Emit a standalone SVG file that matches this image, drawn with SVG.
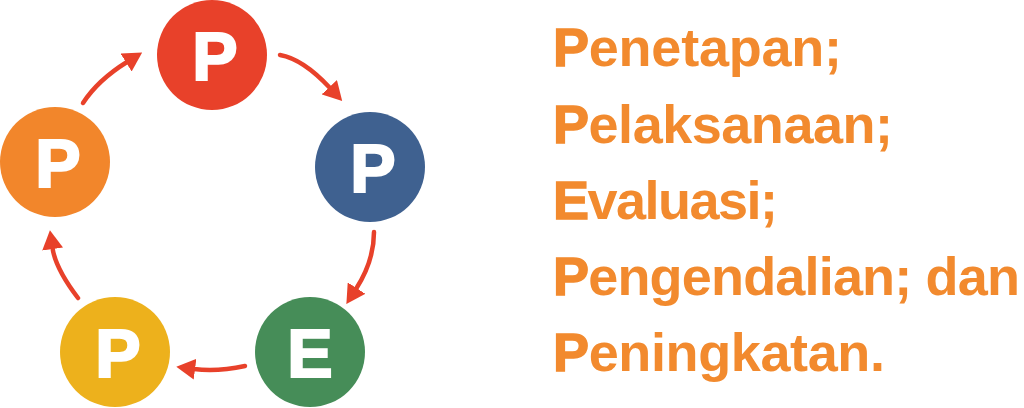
<svg xmlns="http://www.w3.org/2000/svg" width="1024" height="408" viewBox="0 0 1024 408">
<style>
.node text{font-family:"Liberation Sans",Arial,sans-serif;font-weight:700;font-size:68px;fill:#fff;stroke:#fff;stroke-width:2.2;stroke-linejoin:miter;text-anchor:middle}
.conn path{fill:none;stroke:#E8412A;stroke-width:4.5;stroke-linecap:round}
.label{font-family:"Liberation Sans",Arial,sans-serif;font-weight:700;font-size:54px;fill:#F28A2E}
.label .k{stroke:#F28A2E;stroke-width:1.4}
</style>
<defs>
<marker id="ah" markerUnits="userSpaceOnUse" viewBox="0 0 18 20" refX="1" refY="10" markerWidth="19" markerHeight="21" orient="auto">
<path d="M0,0 L18,10 L0,20 z" fill="#E8412A"/>
</marker>
</defs>
<rect width="1024" height="408" fill="#fff"/>
<g id="node-top" class="node"><circle cx="212" cy="55" r="55" fill="#E8412A"/><text x="215" y="80">P</text></g>
<g id="node-right" class="node"><circle cx="370" cy="167" r="55" fill="#3F6190"/><text x="373" y="192">P</text></g>
<g id="node-bottom-right" class="node"><circle cx="310" cy="352" r="55" fill="#468D58"/><text x="310" y="377">E</text></g>
<g id="node-bottom-left" class="node"><circle cx="115" cy="352" r="55" fill="#EDB11C"/><text x="118" y="377">P</text></g>
<g id="node-left" class="node"><circle cx="55" cy="162" r="55" fill="#F2862B"/><text x="58" y="187">P</text></g>
<g class="conn" id="connectors">
<path d="M83,103 Q98,80 127,62" marker-end="url(#ah)"/>
<path d="M280,55 Q303,59 330,88" marker-end="url(#ah)"/>
<path d="M374,232 Q374,261 356,289" marker-end="url(#ah)"/>
<path d="M245,366 Q217,372 194,369" marker-end="url(#ah)"/>
<path d="M78,298 Q55.5,268.5 52.5,248" marker-end="url(#ah)"/>
</g>
<g id="labels" class="label">
<text x="553" y="66" textLength="289" lengthAdjust="spacing"><tspan class="k">P</tspan>enetapan;</text>
<text x="553" y="143" textLength="340" lengthAdjust="spacing"><tspan class="k">P</tspan>elaksanaan;</text>
<text x="553" y="219" textLength="225" lengthAdjust="spacing"><tspan class="k">E</tspan>valuasi;</text>
<text x="553" y="295" textLength="467" lengthAdjust="spacing"><tspan class="k">P</tspan>engendalian; dan</text>
<text x="553" y="371" textLength="332" lengthAdjust="spacing"><tspan class="k">P</tspan>eningkatan.</text>
</g>
</svg>
